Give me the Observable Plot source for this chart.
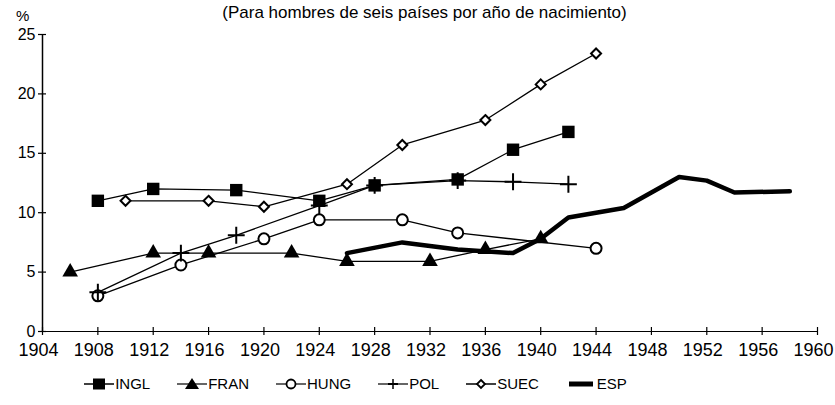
<!DOCTYPE html>
<html><head><meta charset="utf-8">
<script src="https://cdn.jsdelivr.net/npm/d3@7"></script>
<script src="https://cdn.jsdelivr.net/npm/@observablehq/plot@0.6"></script>
<style>
body{margin:0;background:#fff;font-family:"Liberation Sans",Arial,sans-serif;color:#000;}
#wrap{position:relative;width:835px;height:405px;overflow:hidden;}
#title{position:absolute;top:3px;left:0;width:835px;text-align:center;font-size:17px;line-height:20px;margin-left:7px;}
#pct{position:absolute;top:8px;left:16px;font-size:15px;line-height:15px;}
#chart{position:absolute;top:0;left:0;}
#legend{position:absolute;top:375px;left:0;width:835px;display:flex;justify-content:center;align-items:center;gap:27px;font-size:15px;margin-left:-62px;}
.item{display:flex;align-items:center;}
.item svg{display:block;margin-right:1px;}
</style></head>
<body><div id="wrap">
<div id="title">(Para hombres de seis países por año de nacimiento)</div>
<div id="pct">%</div>
<div id="chart"></div>
<div id="legend"></div>
</div>
<script>
// ---- data ----
const xTicks = [1904,1908,1912,1916,1920,1924,1928,1932,1936,1940,1944,1948,1952,1956,1960];
const yTicks = [0,5,10,15,20,25];
const seriesNames = ["INGL","FRAN","HUNG","POL","SUEC","ESP"];

const inglYears = [1908,1912,1918,1924,1928,1934,1938,1942];
const inglVals  = [11.0,12.0,11.9,11.0,12.3,12.8,15.3,16.8];

const franYears = [1906,1912,1916,1922,1926,1932,1936,1940];
const franVals  = [5.0,6.6,6.6,6.6,5.9,5.9,6.9,7.8];

const hungYears = [1908,1914,1920,1924,1930,1934,1944];
const hungVals  = [3.0,5.6,7.8,9.4,9.4,8.3,7.0];

const polYears = [1908,1914,1918,1924,1928,1934,1938,1942];
const polVals  = [3.3,6.6,8.1,10.6,12.3,12.7,12.6,12.4];

const suecYears = [1910,1916,1920,1926,1930,1936,1940,1944];
const suecVals  = [11.0,11.0,10.5,12.4,15.7,17.8,20.8,23.4];

const espYears = [1926,1930,1934,1938,1940,1942,1946,1950,1952,1954,1958];
const espVals  = [6.6,7.5,6.9,6.6,7.8,9.6,10.4,13.0,12.7,11.7,11.8];

// ---- build ----
const toRows = (ys, vs) => ys.map((year, i) => ({year, value: vs[i]}));
const ingl = toRows(inglYears, inglVals);
const fran = toRows(franYears, franVals);
const hung = toRows(hungYears, hungVals);
const pol  = toRows(polYears, polVals);
const suec = toRows(suecYears, suecVals);
const esp  = toRows(espYears, espVals);

const lineOpts = {x:"year", y:"value", stroke:"black", strokeWidth:1.3};

const chart = Plot.plot({
  width: 835, height: 365,
  marginLeft: 42, marginRight: 18, marginTop: 34, marginBottom: 34,
  x: {domain: [1904, 1960]},
  y: {domain: [0, 25]},
  style: {fontFamily: "'Liberation Sans', Arial, sans-serif", color: "black", background: "transparent"},
  marks: [
    Plot.ruleX([xTicks[0]], {y1: yTicks[0], y2: yTicks[yTicks.length-1], stroke: "black", strokeWidth: 1.5}),
    Plot.ruleY([yTicks[0]], {x1: xTicks[0], x2: xTicks[xTicks.length-1], stroke: "black", strokeWidth: 1.2}),
    Plot.ruleY(yTicks, {x1: xTicks[0], x2: xTicks[0], insetLeft: -4, insetRight: -4, stroke: "black", strokeWidth: 1.2}),
    Plot.ruleX(xTicks, {y1: yTicks[0], y2: yTicks[0], insetTop: -4, insetBottom: -4, stroke: "black", strokeWidth: 1.2}),
    Plot.axisY(yTicks, {tickSize: 0, tickPadding: 7, label: null, fontSize: 16, tickFormat: d => String(d)}),
    Plot.axisX(xTicks, {tickSize: 0, tickPadding: 12, label: null, fontSize: 18, dx: -4, tickFormat: d => String(d)}),
    Plot.line(ingl, lineOpts),
    Plot.line(fran, lineOpts),
    Plot.line(hung, lineOpts),
    Plot.line(pol, lineOpts),
    Plot.line(suec, lineOpts),
    Plot.dot(ingl, {x:"year", y:"value", symbol:"square", fill:"black", r:7}),
    Plot.dot(fran, {x:"year", y:"value", symbol:"triangle", fill:"black", r:5.8}),
    Plot.dot(hung, {x:"year", y:"value", symbol:"circle", fill:"white", stroke:"black", strokeWidth:2, r:5.5}),
    Plot.dot(pol,  {x:"year", y:"value", symbol:"plus", stroke:"black", strokeWidth:2, r:5.5}),
    Plot.dot(suec, {x:"year", y:"value", symbol:"diamond2", fill:"white", stroke:"black", strokeWidth:2, r:4.5}),
    Plot.line(esp, {x:"year", y:"value", stroke:"black", strokeWidth:4.5, strokeLinejoin:"round"})
  ]
});
document.getElementById("chart").appendChild(chart);

// ---- legend ----
const icons = {
  INGL: '<line x1="0" y1="7" x2="30" y2="7" stroke="black" stroke-width="1.5"/><rect x="9" y="1.5" width="12" height="11" fill="black"/>',
  FRAN: '<line x1="0" y1="7" x2="30" y2="7" stroke="black" stroke-width="1.2"/><path d="M15,1 L22,12 L8,12Z" fill="black"/>',
  HUNG: '<line x1="0" y1="7" x2="30" y2="7" stroke="black" stroke-width="1.2"/><circle cx="15" cy="7" r="4.5" fill="white" stroke="black" stroke-width="1.8"/>',
  POL:  '<line x1="0" y1="7" x2="30" y2="7" stroke="black" stroke-width="1.2"/><line x1="15" y1="2" x2="15" y2="12" stroke="black" stroke-width="1.5"/><line x1="10" y1="7" x2="20" y2="7" stroke="black" stroke-width="2"/>',
  SUEC: '<line x1="0" y1="7" x2="30" y2="7" stroke="black" stroke-width="1.5"/><path d="M15,3 L19,7 L15,11 L11,7Z" fill="white" stroke="black" stroke-width="1.8"/>',
  ESP:  '<line x1="3" y1="7" x2="27" y2="7" stroke="black" stroke-width="5"/>'
};
const legend = document.getElementById("legend");
seriesNames.forEach(name => {
  const it = document.createElement("div");
  it.className = "item";
  it.innerHTML = `<svg width="30" height="14">${icons[name]}</svg><span>${name}</span>`;
  legend.appendChild(it);
});
</script>
</body></html>
